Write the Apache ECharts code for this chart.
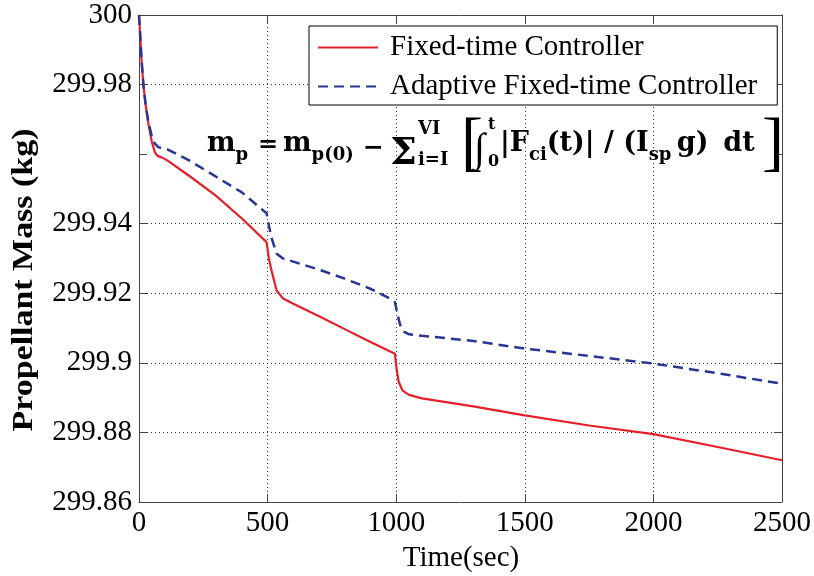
<!DOCTYPE html>
<html>
<head>
<meta charset="utf-8">
<script src="https://cdn.jsdelivr.net/npm/echarts@6/dist/echarts.min.js"></script>
<style>
html,body{margin:0;padding:0;background:#fff;}
#chart{width:814px;height:576px;}
</style>
</head>
<body>
<div id="chart"></div>
<script>
// ---- data ----
var seriesNames = ['Fixed-time Controller', 'Adaptive Fixed-time Controller'];
var fixedTime = [0, 4, 10, 17, 26, 36, 50, 62, 72, 90, 110, 200, 300, 400, 496, 505, 515, 535, 560, 600, 700, 800, 900, 995, 1002, 1010, 1025, 1050, 1100, 1300, 1500, 1750, 2000, 2250, 2500];
var fixedMass = [300, 299.995, 299.987, 299.980, 299.974, 299.969, 299.9635, 299.9605, 299.9595, 299.959, 299.9582, 299.9535, 299.948, 299.9415, 299.9347, 299.930, 299.9266, 299.9208, 299.9185, 299.917, 299.9134, 299.9097, 299.906, 299.9026, 299.898, 299.8945, 299.892, 299.8908, 299.8898, 299.8875, 299.8849, 299.882, 299.8795, 299.8758, 299.872];
var adaptTime = [0, 4, 10, 17, 26, 36, 50, 62, 75, 110, 200, 300, 400, 496, 505, 515, 535, 560, 600, 700, 800, 900, 975, 995, 1005, 1015, 1030, 1050, 1100, 1300, 1500, 1750, 2000, 2250, 2500];
var adaptMass = [300, 299.995, 299.987, 299.980, 299.974, 299.9695, 299.965, 299.963, 299.962, 299.9614, 299.958, 299.9535, 299.949, 299.943, 299.9395, 299.936, 299.9314, 299.930, 299.9291, 299.9268, 299.9242, 299.9213, 299.9185, 299.9175, 299.914, 299.911, 299.909, 299.9082, 299.9078, 299.9063, 299.9041, 299.902, 299.8998, 299.897, 299.894];
var xTickLabels = ['0', '500', '1000', '1500', '2000', '2500'];
var yTickLabels = ['299.86', '299.88', '299.9', '299.92', '299.94', '', '299.98', '300'];
var xTitle = 'Time(sec)';
var yTitle = 'Propellant Mass (kg)';

function pairs(t, m) { return t.map(function (v, i) { return [v, m[i]]; }); }

var FONT = '"Liberation Serif", "Times New Roman", serif';
var MFONT = '"DejaVu Serif", serif';
var chart = echarts.init(document.getElementById('chart'), null, {renderer: 'canvas'});

var gridLineColors = yTickLabels.map(function (l) { return l === '' ? 'rgba(0,0,0,0)' : '#333'; });

var rich = {
  m: {fontFamily: MFONT, fontWeight: 'bold', fontSize: 27, lineHeight: 40, verticalAlign: 'middle', color: '#000'},
  s: {fontFamily: MFONT, fontWeight: 'bold', fontSize: 18, lineHeight: 20, verticalAlign: 'bottom', color: '#000'}
};
function txt(x, y, text, font, align) {
  return {type: 'text', x: x, y: y, z: 10, style: {text: text, font: font, fill: '#000', align: align || 'left', verticalAlign: 'middle'}};
}
function richTxt(x, y, text) {
  return {type: 'text', x: x, y: y, z: 10, style: {text: text, rich: rich, fill: '#000', align: 'left', verticalAlign: 'middle'}};
}

var option = {
  backgroundColor: '#fff',
  animation: false,
  grid: {left: 139, right: 31, top: 15, bottom: 74, containLabel: false},
  legend: {
    orient: 'vertical', left: 309, top: 26,
    data: seriesNames,
    itemWidth: 60, itemHeight: 20, itemGap: 10,
    itemStyle: {color: 'rgba(0,0,0,0)', borderWidth: 0, opacity: 0},
    backgroundColor: '#fff', borderColor: '#000', borderWidth: 1,
    padding: [7, 20, 4, 8],
    textStyle: {fontFamily: FONT, fontSize: 29, color: '#000', lineHeight: 29, padding: [0, 0, 0, 7]}
  },
  xAxis: [{
    type: 'value', min: 0, max: 2500, interval: 500, position: 'bottom',
    axisLine: {show: true, onZero: false, lineStyle: {color: '#444', width: 1}},
    axisTick: {show: true, inside: true, length: 8, lineStyle: {color: '#444'}},
    axisLabel: {fontFamily: FONT, fontSize: 29, color: '#000', margin: 7,
      formatter: function (v) { return xTickLabels[Math.round(v / 500)]; }},
    splitLine: {show: true, lineStyle: {color: '#333', width: 1, type: [1, 3]}}
  }, {
    type: 'value', min: 0, max: 2500, interval: 500, position: 'top',
    axisLine: {show: true, onZero: false, lineStyle: {color: '#444', width: 1}},
    axisTick: {show: true, inside: true, length: 8, lineStyle: {color: '#444'}},
    axisLabel: {show: false}, splitLine: {show: false}
  }],
  yAxis: [{
    type: 'value', min: 299.86, max: 300, interval: 0.02, position: 'left',
    axisLine: {show: true, onZero: false, lineStyle: {color: '#444', width: 1}},
    axisTick: {show: true, inside: true, length: 8, lineStyle: {color: '#444'}},
    axisLabel: {fontFamily: FONT, fontSize: 29, color: '#000', margin: 7,
      formatter: function (v) { return yTickLabels[Math.round((v - 299.86) / 0.02)]; }},
    splitLine: {show: true, showMinLine: true, showMaxLine: true, lineStyle: {color: gridLineColors, width: 1, type: [1, 3]}}
  }, {
    type: 'value', min: 299.86, max: 300, interval: 0.02, position: 'right',
    axisLine: {show: true, onZero: false, lineStyle: {color: '#444', width: 1}},
    axisTick: {show: true, inside: true, length: 8, lineStyle: {color: '#444'}},
    axisLabel: {show: false}, splitLine: {show: false}
  }],
  series: [{
    name: seriesNames[0], type: 'line', xAxisIndex: 0, yAxisIndex: 0,
    data: pairs(fixedTime, fixedMass), showSymbol: false, symbol: 'none',
    lineStyle: {color: '#e5202a', width: 2.2}, itemStyle: {color: '#e5202a'}, z: 3
  }, {
    name: seriesNames[1], type: 'line', xAxisIndex: 0, yAxisIndex: 0,
    data: pairs(adaptTime, adaptMass), showSymbol: false, symbol: 'none',
    lineStyle: {color: '#283593', width: 2.5, type: [10, 6]}, itemStyle: {color: '#283593'}, z: 4
  }],
  graphic: [
    // axis titles
    {type: 'text', x: 25, y: 280, rotation: Math.PI / 2, scaleX: 1.17, z: 10,
      style: {text: yTitle, font: 'bold 29px ' + FONT, fill: '#000', align: 'center', verticalAlign: 'middle'}},
    txt(461, 558, xTitle, '29px ' + FONT, 'center'),
    // formula
    richTxt(207, 144, '{m|m}{s|p}'),
    txt(258, 146, '=', 'bold 24px ' + MFONT),
    richTxt(283, 144, '{m|m}{s|p(0)}'),
    txt(363, 148, '\u2212', 'bold 25px ' + MFONT),
    txt(390, 154, '\u03A3', 'bold 38px ' + MFONT),
    txt(418, 129, 'VI', 'bold 18px ' + MFONT),
    txt(418, 160, 'i=I', 'bold 18px ' + MFONT),
    txt(461, 146, '[', '66px ' + FONT),
    txt(474, 150, '\u222B', '40px ' + FONT),
    txt(488, 125, 't', 'bold 16px ' + MFONT),
    txt(488, 162, '0', 'bold 16px ' + MFONT),
    richTxt(500, 144, '{m||F}{s|ci}{m|(t)| / (I}{s|sp}{m|\u2009g) \u2009dt}'),
    txt(762, 146, ']', '66px ' + FONT)
  ]
};
chart.setOption(option);
</script>
</body>
</html>
